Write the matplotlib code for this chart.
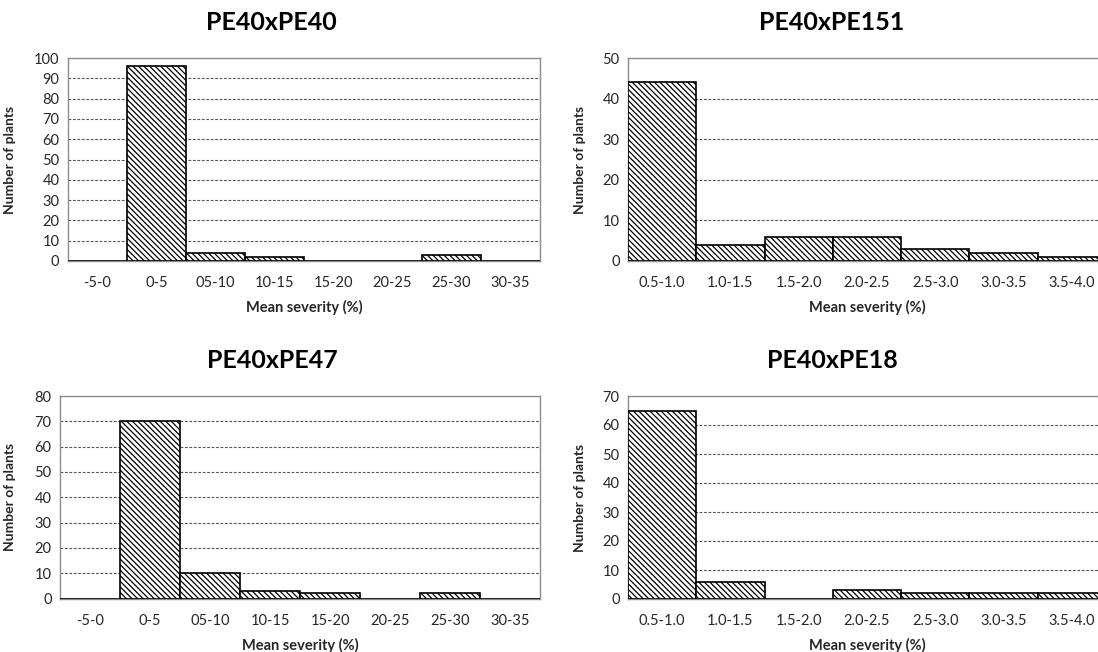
import matplotlib
matplotlib.use("Agg")
import matplotlib.pyplot as plt
import numpy as np

plt.rcParams['font.family'] = ['Lato', 'DejaVu Sans']
plt.rcParams['hatch.linewidth'] = 0.9
plt.rcParams['hatch.color'] = 'black'

# ---- data ----
cats_pct = ["-5-0", "0-5", "05-10", "10-15", "15-20", "20-25", "25-30", "30-35"]
cats_dec = ["0.5-1.0", "1.0-1.5", "1.5-2.0", "2.0-2.5", "2.5-3.0", "3.0-3.5", "3.5-4.0"]

pe40_pe40 = [0, 96, 4, 2, 0, 0, 3, 0]
pe40_pe151 = [44, 4, 6, 6, 3, 2, 1]
pe40_pe47 = [0, 70, 10, 3, 2, 0, 2, 0]
pe40_pe18 = [65, 6, 0, 3, 2, 2, 2]

titles = ["PE40xPE40", "PE40xPE151", "PE40xPE47", "PE40xPE18"]
ymaxes = [100, 50, 80, 70]

W, H = 1098, 652
fig = plt.figure(figsize=(W / 100, H / 100), dpi=100)

def px_axes(left, top, right, bottom):
    return fig.add_axes([left / W, 1 - bottom / H, (right - left) / W, (bottom - top) / H])

panels = [
    ((67.7, 58, 540, 261), cats_pct, pe40_pe40, ymaxes[0], titles[0], (271, 23), 16),
    ((628, 58, 1106, 261), cats_dec, pe40_pe151, ymaxes[1], titles[1], (832, 23), 586),
    ((60, 396, 540, 598.5), cats_pct, pe40_pe47, ymaxes[2], titles[2], (272, 360), 16),
    ((628, 396, 1106, 599), cats_dec, pe40_pe18, ymaxes[3], titles[3], (832, 360), 586),
]

spine_col = '#8c8c8c'
text_col = '#262626'

for box, cats, vals, ymax, title, tpos, ylx in panels:
    ax = px_axes(*box)
    x = np.arange(len(cats))
    ax.bar(x, vals, width=1.0, color='white', edgecolor='black', linewidth=1.2,
           hatch='\\\\\\\\\\\\', zorder=3)
    ax.set_xlim(-0.5, len(cats) - 0.5)
    ax.set_ylim(0, ymax)
    ax.set_yticks(np.arange(0, ymax + 1, 10))
    ax.set_xticks(x)
    ax.set_xticklabels(cats)
    ax.yaxis.grid(True, linestyle=(0, (2.5, 1.5)), color='#555555', linewidth=0.8, zorder=0)
    ax.set_axisbelow(True)
    for s in ax.spines.values():
        s.set_color(spine_col)
        s.set_linewidth(1.0)
    ax.tick_params(axis='both', length=0, labelsize=10.5, colors=text_col)
    ax.tick_params(axis='x', pad=11)
    ax.tick_params(axis='y', pad=6)
    ax.set_xlabel("Mean severity (%)", fontsize=10.5, fontweight='bold', color=text_col, labelpad=7)
    ax.set_ylabel("Number of plants", fontsize=10, fontweight='bold', color=text_col)
    left, top, right, bottom = box
    ax.yaxis.set_label_coords((ylx - left) / (right - left), 0.5)
    fig.text(tpos[0] / W, 1 - tpos[1] / H, title, fontsize=18, fontweight='bold',
             ha='center', va='center', color='black')

fig.savefig("out.png", dpi=100)
